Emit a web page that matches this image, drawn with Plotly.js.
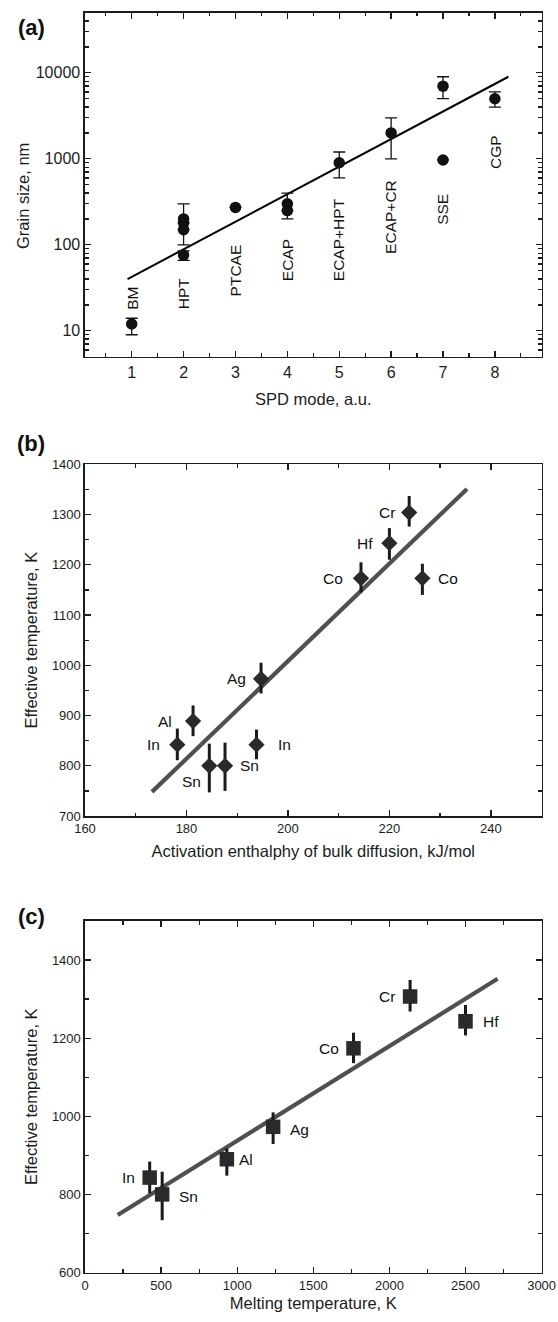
<!DOCTYPE html>
<html>
<head>
<meta charset="utf-8">
<script src="https://cdn.plot.ly/plotly-3.0.1.min.js"></script>
<style>
  html, body { margin: 0; padding: 0; background: #ffffff; }
  #chart { width: 558px; height: 1322px; }
</style>
</head>
<body>
<div id="chart"></div>
<script>
// ---------------- Panel (a): grain size vs SPD mode ----------------
const spdModes      = ['BM', 'HPT', 'PTCAE', 'ECAP', 'ECAP+HPT', 'ECAP+CR', 'SSE', 'CGP'];
const spdModeIndex  = [1, 2, 3, 4, 5, 6, 7, 8];
const spdLabelLevel = [24, 27, 51, 67, 114, 212, 255, 1200];   // grain-size level of each rotated label centre
const grainMode      = [1, 2, 2, 2, 2, 3, 4, 4, 5, 6, 7, 7, 8];
const grainSize      = [12, 200, 180, 150, 76, 272, 300, 250, 900, 2000, 7000, 970, 5000];
const grainErrPlus   = [2, 100, null, null, 9, null, 100, null, 300, 1000, 2000, null, 1000];
const grainErrMinus  = [3, 100, null, null, 10, null, 100, null, 300, 1000, 2000, null, 1000];
const grainFitMode   = [0.92, 8.26];
const grainFitSize   = [40, 9000];

// ---------------- Panel (b): T_eff vs activation enthalpy ----------------
const elementsB   = ['Cr', 'Hf', 'Co', 'Co', 'Ag', 'Al', 'In', 'Sn', 'Sn', 'In'];
const enthalpyB   = [223.9, 220.0, 214.4, 226.5, 194.7, 181.3, 178.2, 184.5, 187.6, 193.8];
const teffB       = [1304, 1243, 1173, 1173, 973, 889, 842, 800, 800, 842];
const teffBPlus   = [33, 30, 32, 29, 32, 31, 32, 44, 46, 30];
const teffBMinus  = [28, 33, 28, 33, 29, 30, 31, 53, 50, 29];
const fitEnthalpy = [173.2, 235.3];
const fitTeffB    = [748, 1351];

// ---------------- Panel (c): T_eff vs melting temperature ----------------
const elementsC  = ['Cr', 'Hf', 'Co', 'Ag', 'Al', 'In', 'Sn'];
const meltingC   = [2136, 2500, 1764, 1236, 932, 425, 507];
const teffC      = [1307, 1243, 1174, 973, 890, 843, 800];
const teffCPlus  = [42, 42, 40, 37, 28, 41, 58];
const teffCMinus = [39, 36, 38, 44, 42, 40, 66];
const fitMelting = [215, 2711];
const fitTeffC   = [747, 1352];

// ---------------- styling / placement (not data) ----------------
const FONT = '"Liberation Sans", Arial, Helvetica, sans-serif';
const INK = '#1c1c1c';
const FIT_GREY = '#505050';
// label placement for element labels: [xanchor, xshift(px), yshift(px)]
const placeB = [['right', -12, 0], ['right', -14, 0], ['right', -16, 0], ['left', 14, 0], ['right', -13, 0],
                ['right', -19, 0], ['right', -15, 0], ['center', -18, -16], ['left', 13, 0], ['left', 20, 0]];
const placeC = [['right', -13, 0], ['left', 15, 0], ['right', -12, 0], ['left', 15, -3], ['left', 10, 0],
                ['right', -13, 0], ['left', 15, -2]];

const W = 558, H = 1322;
const px2x = p => p / W;
const px2y = p => 1 - p / H;
const xDom = [px2x(85), px2x(541.6)];

function axis(extra) {
  return Object.assign({
    showline: true, linecolor: INK, linewidth: 1.6, mirror: 'ticks',
    ticks: 'inside', ticklen: 6, tickwidth: 1.3, tickcolor: INK,
    showgrid: false, zeroline: false, fixedrange: true,
    tickfont: { family: FONT, size: 13, color: INK },
    minor: { ticks: 'inside', ticklen: 3.5, tickwidth: 1.3, tickcolor: INK, showgrid: false }
  }, extra);
}

// log minor ticks for panel (a)
const logMinor = [];
for (let d = 0; d <= 4; d++) {
  for (let m = 2; m <= 9; m++) {
    const v = m * Math.pow(10, d);
    if (v > 5 && v < 50000) logMinor.push(v);
  }
}

const traces = [
  // (a) fit line
  { x: grainFitMode, y: grainFitSize, xaxis: 'x', yaxis: 'y', mode: 'lines',
    line: { color: '#000', width: 2 }, hoverinfo: 'skip', showlegend: false },
  // (a) points
  { x: grainMode, y: grainSize, xaxis: 'x', yaxis: 'y', mode: 'markers',
    marker: { symbol: 'circle', size: 11.5, color: '#111' },
    error_y: { type: 'data', symmetric: false, array: grainErrPlus, arrayminus: grainErrMinus,
               color: '#111', thickness: 1.3, width: 6 },
    showlegend: false },
  // (b) fit line
  { x: fitEnthalpy, y: fitTeffB, xaxis: 'x2', yaxis: 'y2', mode: 'lines',
    line: { color: FIT_GREY, width: 4.2 }, hoverinfo: 'skip', showlegend: false },
  // (b) points
  { x: enthalpyB, y: teffB, text: elementsB, xaxis: 'x2', yaxis: 'y2', mode: 'markers',
    marker: { symbol: 'diamond', size: 12.5, color: '#2a2a2a' },
    error_y: { type: 'data', symmetric: false, array: teffBPlus, arrayminus: teffBMinus,
               color: '#1a1a1a', thickness: 3, width: 0 },
    showlegend: false },
  // (c) fit line
  { x: fitMelting, y: fitTeffC, xaxis: 'x3', yaxis: 'y3', mode: 'lines',
    line: { color: FIT_GREY, width: 4.2 }, hoverinfo: 'skip', showlegend: false },
  // (c) points
  { x: meltingC, y: teffC, text: elementsC, xaxis: 'x3', yaxis: 'y3', mode: 'markers',
    marker: { symbol: 'square', size: 14.5, color: '#2a2a2a' },
    error_y: { type: 'data', symmetric: false, array: teffCPlus, arrayminus: teffCMinus,
               color: '#1a1a1a', thickness: 3, width: 0 },
    showlegend: false }
];

const titleFont = { family: FONT, size: 16.5, color: INK };

const annotations = [];
// panel letters
[['(a)', 28], ['(b)', 444], ['(c)', 916]].forEach(([t, py]) => {
  annotations.push({ text: '<b>' + t + '</b>', xref: 'paper', yref: 'paper', x: px2x(31), y: px2y(py),
    xanchor: 'center', yanchor: 'middle', showarrow: false,
    font: { family: FONT, size: 22, color: '#111' } });
});
// (a) y-axis title (sits slightly below the axis centre in the original)
annotations.push({ text: 'Grain size, nm', xref: 'paper', yref: 'paper', x: px2x(23), y: px2y(196),
  textangle: -90, xanchor: 'center', yanchor: 'middle', showarrow: false, font: titleFont });
// (a) rotated SPD-mode labels
spdModes.forEach((m, i) => {
  annotations.push({ text: m, xref: 'x', yref: 'y', x: spdModeIndex[i], y: Math.log10(spdLabelLevel[i]),
    textangle: -90, showarrow: false, xanchor: 'center', yanchor: 'middle',
    font: { family: FONT, size: 15.5, color: '#111' } });
});
// (b) element labels
elementsB.forEach((el, i) => {
  const p = placeB[i];
  annotations.push({ text: el, xref: 'x2', yref: 'y2', x: enthalpyB[i], y: teffB[i],
    xanchor: p[0], yanchor: 'middle', xshift: p[1], yshift: p[2], showarrow: false,
    font: { family: FONT, size: 15.5, color: '#111' } });
});
// (c) element labels
elementsC.forEach((el, i) => {
  const p = placeC[i];
  annotations.push({ text: el, xref: 'x3', yref: 'y3', x: meltingC[i], y: teffC[i],
    xanchor: p[0], yanchor: 'middle', xshift: p[1], yshift: p[2], showarrow: false,
    font: { family: FONT, size: 15.5, color: '#111' } });
});

const layout = {
  width: W, height: H,
  margin: { l: 0, r: 0, t: 0, b: 0 },
  paper_bgcolor: '#fff', plot_bgcolor: '#fff',
  showlegend: false,
  font: { family: FONT, color: INK },
  xaxis: axis({ domain: xDom, anchor: 'y', range: [0.1, 8.9], tickmode: 'linear', tick0: 0, dtick: 1,
    minor: { ticks: 'inside', ticklen: 3.5, tickwidth: 1.3, tickcolor: INK, dtick: 0.5, tick0: 0 },
    tickfont: { family: FONT, size: 16, color: INK },
    title: { text: 'SPD mode, a.u.', font: titleFont, standoff: 14 } }),
  yaxis: axis({ domain: [px2y(356.7), px2y(12.7)], anchor: 'x', type: 'log',
    range: [Math.log10(5), Math.log10(50000)],
    tickmode: 'array', tickvals: [10, 100, 1000, 10000], ticktext: ['10', '100', '1000', '10000'],
    minor: { ticks: 'inside', ticklen: 3.5, tickwidth: 1.3, tickcolor: INK, tickmode: 'array', tickvals: logMinor },
    tickfont: { family: FONT, size: 16, color: INK } }),
  xaxis2: axis({ domain: xDom, anchor: 'y2', range: [160, 250], tickmode: 'linear', tick0: 160, dtick: 20,
    minor: { ticks: 'inside', ticklen: 3.5, tickwidth: 1.3, tickcolor: INK, dtick: 10 },
    title: { text: 'Activation enthalphy of bulk diffusion, kJ/mol', font: titleFont, standoff: 10 } }),
  yaxis2: axis({ domain: [px2y(816), px2y(464.3)], anchor: 'x2', range: [700, 1400], tickmode: 'linear', tick0: 700, dtick: 100,
    minor: { ticks: 'inside', ticklen: 3.5, tickwidth: 1.3, tickcolor: INK, dtick: 50 },
    title: { text: 'Effective temperature, K', font: titleFont, standoff: 10 } }),
  xaxis3: axis({ domain: xDom, anchor: 'y3', range: [0, 3000], tickmode: 'linear', tick0: 0, dtick: 500,
    minor: { ticks: 'inside', ticklen: 3.5, tickwidth: 1.3, tickcolor: INK, dtick: 250 },
    title: { text: 'Melting temperature, K', font: titleFont, standoff: 6 } }),
  yaxis3: axis({ domain: [px2y(1272.5), px2y(921)], anchor: 'x3', range: [600, 1500], tickmode: 'linear', tick0: 600, dtick: 200,
    minor: { ticks: 'inside', ticklen: 3.5, tickwidth: 1.3, tickcolor: INK, dtick: 100 },
    title: { text: 'Effective temperature, K', font: titleFont, standoff: 10 } }),
  annotations: annotations
};

Plotly.newPlot('chart', traces, layout, { displayModeBar: false, staticPlot: true });
</script>
</body>
</html>
